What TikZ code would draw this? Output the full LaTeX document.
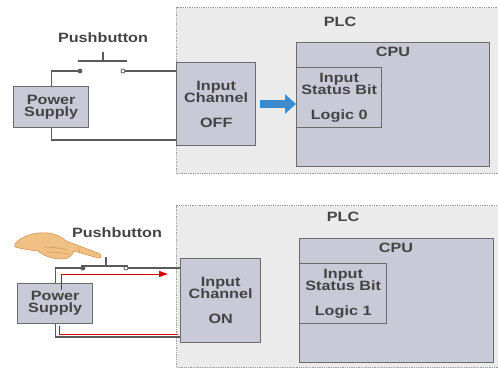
\documentclass[tikz,border=0pt]{standalone}
\usepackage{fontspec}
\setmainfont{Liberation Sans}[FakeStretch=1.2,UprightFont=*-Bold]
\usetikzlibrary{arrows.meta, positioning}
\definecolor{lavbox}{HTML}{C9CAD8}
\definecolor{plcback}{HTML}{EBEBEB}
\definecolor{wiregray}{HTML}{5A5A5A}
\definecolor{inkgray}{HTML}{444444}
\definecolor{flowblue}{HTML}{3A8BD0}
\definecolor{skin}{HTML}{F1C084}
\definecolor{skinline}{HTML}{D29650}

\begin{document}
\begin{tikzpicture}[x=1pt, y=-1pt, font=\fontsize{13.5}{15}\selectfont, text=inkgray,
    plcbox/.style={draw=gray!80, densely dotted, line width=1.3pt, fill=plcback,
        anchor=north west, inner sep=0pt},
    unit/.style={draw=wiregray!90, line width=1.4pt, fill=lavbox, anchor=north west,
        inner sep=0pt, align=center},
    wire/.style={wiregray, line width=1.3pt},
    live/.style={red!85!black, line width=1pt},
    contact/.style={circle, draw=wiregray, line width=0.8pt, inner sep=0pt, minimum size=4pt},
    flow/.style={flowblue, line width=8pt, -{Triangle[width=19pt, length=11pt]}},
]
\useasboundingbox (0,0) rectangle (498,367);

% switch open: OFF
\node[plcbox, minimum width=330pt, minimum height=166pt] (plcA) at (176,7) {};
\node (plcTxtA) at (340,22) {PLC};
\node[unit, minimum width=193pt, minimum height=124pt] (cpuA) at (296,42) {};
\node (cpuTxtA) at (393,52) {CPU};
\node[unit, minimum width=85pt, minimum height=60pt] (bitA) at (296,67)
    {Input\\[-3pt]Status Bit\\[10pt]Logic 0};
\node[unit, minimum width=79pt, minimum height=83pt] (chanA) at (176,62)
    {Input\\[-3pt]Channel\\[10pt]OFF};
\node[unit, minimum width=75pt, minimum height=41pt] (psA) at (13,86)
    {Power\\[-3pt]Supply};
\node (pbTxtA) at (103,38) {Pushbutton};

\node[contact, fill=wiregray] (k1A) at (80,71) {};
\node[contact, fill=white] (k2A) at (123,71) {};
\coordinate (inA) at (176,71);
\coordinate (retA) at (176,140);
\draw[wire] (psA.north) |- (k1A);
\draw[wire] (k2A) -- (inA);
\draw[wire] (psA.south) |- (retA);
\draw[wire] (78,61) -- (127,61) (103,61) -- (103,52); % button lifted

\coordinate (aA) at (260,104);
\draw[flow] (aA) -- (bitA.west |- aA);

% switch pressed: ON
\node[plcbox, minimum width=330pt, minimum height=162pt] (plcB) at (176,205) {};
\node (plcTxtB) at (343,217) {PLC};
\node[unit, minimum width=194pt, minimum height=124pt] (cpuB) at (299,238) {};
\node (cpuTxtB) at (396,248) {CPU};
\node[unit, minimum width=87pt, minimum height=60pt] (bitB) at (299,263)
    {Input\\[-3pt]Status Bit\\[10pt]Logic 1};
\node[unit, minimum width=80pt, minimum height=84pt] (chanB) at (180,258)
    {Input\\[-3pt]Channel\\[10pt]ON};
\node[unit, minimum width=75pt, minimum height=40pt] (psB) at (17,283)
    {Power\\[-3pt]Supply};
\node (pbTxtB) at (117,233) {Pushbutton};

\node[contact, fill=wiregray] (k1B) at (83,268) {};
\node[contact, fill=white] (k2B) at (126,268) {};
\coordinate (inB) at (180,268);
\coordinate (retB) at (180,337);
\draw[wire] (psB.north) |- (k1B);
\draw[wire] (k2B) -- (inB);
\draw[wire] (psB.south) |- (retB);
\draw[wire] (81,266) -- (128,266) (106,266) -- (106,257); % button down

% current path
\coordinate (curTop) at (61,290);
\coordinate (curEnd) at (168,274);
\coordinate (curBot) at (59,326);
\coordinate (curRet) at (178,334);
\draw[live, -{Triangle[width=6pt, length=9pt]}] (curTop) |- (curEnd);
\draw[live] (curBot) |- (curRet);

% finger on the button
\filldraw[fill=skin, draw=skinline, line width=0.6pt]
    (15,244) .. controls (22,235) and (36,232) .. (48,233)
    .. controls (56,234) and (62,237) .. (66,241)
    -- (98,253) .. controls (102,254) and (102,259) .. (98,258)
    -- (74,251) .. controls (72,256) and (68,259) .. (62,259)
    .. controls (52,259) and (44,256) .. (38,251)
    .. controls (30,250) and (22,249) .. (15,247) -- cycle;
\draw[skinline, line width=0.5pt]
    (44,247) .. controls (52,247) and (60,248) .. (68,250)
    (47,252) .. controls (54,252) and (61,253) .. (70,254)
    (78,247) -- (80,252);
\end{tikzpicture}
\end{document}
